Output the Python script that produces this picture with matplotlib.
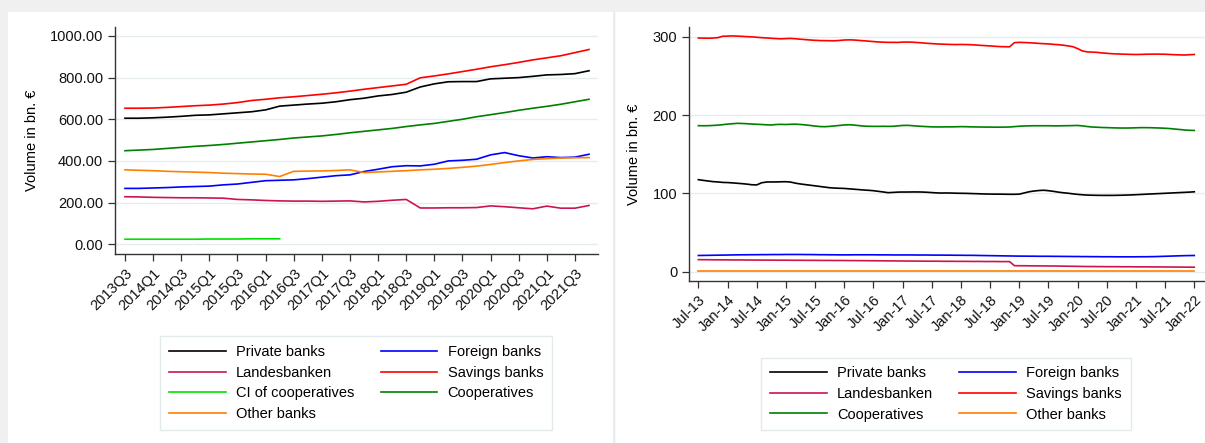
import matplotlib.pyplot as plt
from matplotlib.patches import Rectangle
from matplotlib.lines import Line2D

plt.rcParams['font.family'] = ['Liberation Sans', 'DejaVu Sans']

# left chart: quarterly, 2013Q3 .. 2021Q4
quarters = ['2013Q3', '2013Q4', '2014Q1', '2014Q2', '2014Q3', '2014Q4', '2015Q1', '2015Q2',
            '2015Q3', '2015Q4', '2016Q1', '2016Q2', '2016Q3', '2016Q4', '2017Q1', '2017Q2',
            '2017Q3', '2017Q4', '2018Q1', '2018Q2', '2018Q3', '2018Q4', '2019Q1', '2019Q2',
            '2019Q3', '2019Q4', '2020Q1', '2020Q2', '2020Q3', '2020Q4', '2021Q1', '2021Q2',
            '2021Q3', '2021Q4']
q_private = [605, 605, 607, 610, 614, 619, 621, 626, 631, 636, 645, 663, 668, 673, 677, 684, 694,
             701, 712, 719, 730, 755, 770, 780, 781, 781, 794, 797, 800, 806, 813, 815, 819, 833]
q_foreign = [268, 268, 270, 272, 275, 277, 279, 285, 289, 297, 305, 307, 309, 315, 322, 329, 333,
             349, 360, 372, 377, 376, 384, 400, 403, 408, 429, 440, 425, 414, 420, 416, 418, 432]
q_landes = [228, 227, 225, 224, 223, 223, 222, 221, 215, 213, 210, 208, 207, 207, 206, 207, 208,
            203, 206, 211, 215, 174, 174, 175, 175, 176, 184, 180, 175, 170, 183, 173, 173, 186]
q_savings = [653, 653, 654, 657, 661, 665, 668, 673, 680, 690, 696, 703, 708, 714, 720, 727, 735,
             744, 752, 760, 768, 799, 808, 818, 829, 840, 852, 862, 873, 885, 895, 905, 920, 935]
q_ci_coop = [24, 24, 24, 24, 24, 24, 25, 25, 25, 26, 26, 26]
q_coops = [449, 452, 455, 460, 465, 470, 474, 479, 485, 491, 497, 503, 510, 515, 520, 527, 535,
           542, 549, 556, 565, 573, 580, 590, 600, 612, 622, 632, 643, 653, 662, 672, 684, 696]
q_other = [357, 355, 353, 350, 348, 346, 344, 341, 339, 337, 336, 325, 350, 351, 352, 354, 357,
           344, 347, 350, 353, 357, 360, 364, 369, 375, 383, 392, 400, 407, 411, 414, 415, 416]

# right chart: monthly, Jul-13 .. Jan-22
month_labels = ['Jul-13', 'Jan-14', 'Jul-14', 'Jan-15', 'Jul-15', 'Jan-16', 'Jul-16', 'Jan-17',
                'Jul-17', 'Jan-18', 'Jul-18', 'Jan-19', 'Jul-19', 'Jan-20', 'Jul-20', 'Jan-21',
                'Jul-21', 'Jan-22']
m_private = [117.5, 116.6, 115.8, 115.0, 114.6, 114.0,
             113.8, 113.4, 112.9, 112.4, 111.8, 111.0,
             110.8, 113.5, 114.5, 114.6, 114.6, 114.8,
             114.9, 114.4, 113.0, 112.0, 111.2, 110.4,
             109.6, 108.8, 108.0, 107.2, 106.8, 106.5,
             106.3, 105.8, 105.3, 104.8, 104.3, 103.9,
             103.4, 102.6, 101.8, 100.9, 101.2, 101.6,
             101.7, 101.7, 101.8, 101.8, 101.7, 101.4,
             101.0, 100.6, 100.4, 100.5, 100.4, 100.2,
             100.1, 100.0, 99.8, 99.6, 99.4, 99.2,
             99.1, 99.0, 99.0, 98.9, 98.8, 98.8,
             99.0, 100.5, 102.0, 103.0, 103.6, 104.0,
             103.4, 102.6, 101.6, 100.8, 100.2, 99.4,
             98.7, 98.2, 97.8, 97.6, 97.5, 97.4,
             97.4, 97.4, 97.5, 97.6, 97.8, 98.0,
             98.3, 98.6, 98.9, 99.2, 99.5, 99.8,
             100.1, 100.4, 100.7, 101.0, 101.3, 101.6,
             102.0]
m_foreign = [20.6, 20.7, 20.8, 20.9, 21.0, 21.1,
             21.2, 21.3, 21.4, 21.5, 21.5, 21.6,
             21.6, 21.7, 21.7, 21.8, 21.8, 21.8,
             21.9, 21.9, 21.9, 21.9, 21.8, 21.8,
             21.7, 21.6, 21.6, 21.5, 21.5, 21.4,
             21.4, 21.4, 21.5, 21.5, 21.5, 21.5,
             21.5, 21.4, 21.4, 21.4, 21.3, 21.3,
             21.3, 21.3, 21.3, 21.2, 21.2, 21.2,
             21.1, 21.1, 21.1, 21.0, 21.0, 20.9,
             20.9, 20.8, 20.8, 20.7, 20.6, 20.5,
             20.4, 20.3, 20.2, 20.1, 20.0, 19.9,
             19.8, 19.8, 19.7, 19.7, 19.6, 19.6,
             19.6, 19.5, 19.5, 19.4, 19.4, 19.3,
             19.3, 19.2, 19.2, 19.1, 19.1, 19.0,
             19.0, 19.0, 18.9, 18.9, 18.9, 18.9,
             18.9, 19.0, 19.0, 19.1, 19.2, 19.4,
             19.6, 19.8, 20.0, 20.2, 20.4, 20.5,
             20.6]
m_landes = [15.3, 15.2, 15.2, 15.1, 15.1, 15.0,
            15.0, 14.9, 14.9, 14.9, 14.8, 14.8,
            14.8, 14.7, 14.7, 14.7, 14.6, 14.6,
            14.6, 14.5, 14.5, 14.5, 14.4, 14.4,
            14.4, 14.3, 14.3, 14.3, 14.2, 14.2,
            14.2, 14.1, 14.1, 14.0, 14.0, 13.9,
            13.9, 13.8, 13.8, 13.7, 13.7, 13.6,
            13.6, 13.5, 13.5, 13.4, 13.4, 13.3,
            13.3, 13.3, 13.2, 13.2, 13.2, 13.1,
            13.1, 13.1, 13.0, 13.0, 13.0, 12.9,
            12.9, 12.9, 12.8, 12.8, 12.8, 7.6,
            7.5, 7.5, 7.4, 7.4, 7.3, 7.3,
            7.2, 7.2, 7.1, 7.0, 6.9, 6.8,
            6.7, 6.6, 6.5, 6.5, 6.4, 6.4,
            6.3, 6.3, 6.3, 6.2, 6.2, 6.2,
            6.1, 6.1, 6.1, 6.0, 6.0, 6.0,
            5.9, 5.9, 5.8, 5.8, 5.7, 5.7,
            5.6]
m_savings = [298.5, 298.4, 298.3, 298.5, 299.0, 300.8,
             301.0, 301.2, 301.0, 300.7, 300.3, 300.0,
             299.5, 299.0, 298.6, 298.2, 297.8, 297.5,
             297.8, 298.0, 297.6, 297.0, 296.5, 296.0,
             295.6, 295.3, 295.2, 295.1, 295.0, 295.4,
             296.0, 296.2, 296.0, 295.5, 295.0, 294.5,
             294.0, 293.5, 293.2, 293.0, 293.0, 292.9,
             293.3, 293.4, 293.2, 292.8, 292.3, 291.8,
             291.4, 291.0, 290.7, 290.5, 290.3, 290.2,
             290.3, 290.2, 290.0, 289.6, 289.2, 288.8,
             288.4, 288.0, 287.6, 287.4, 287.3, 292.6,
             293.0, 292.8, 292.5, 292.1, 291.7, 291.3,
             291.0, 290.5, 290.0, 289.4, 288.5, 287.5,
             285.0, 282.0, 280.8, 280.5, 280.2, 279.5,
             279.0, 278.5, 278.2, 278.0, 277.8, 277.6,
             277.5, 277.6, 277.8, 277.9, 278.0, 277.9,
             277.8, 277.5, 277.2, 277.0, 276.8, 277.2,
             277.5]
m_coops = [186.5, 186.4, 186.5, 186.8, 187.2, 187.8,
           188.5, 189.0, 189.5, 189.3, 189.0, 188.6,
           188.3, 188.0, 187.6, 187.4, 188.0, 188.2,
           188.0, 188.3, 188.4, 188.0, 187.5, 186.8,
           186.0, 185.4, 185.2, 185.6, 186.2, 186.8,
           187.4, 187.7, 187.3, 186.6, 186.0, 185.7,
           185.6, 185.6, 185.7, 185.6, 185.7, 186.2,
           186.8, 186.9, 186.5, 186.0, 185.6, 185.3,
           185.0, 184.9, 184.9, 185.0, 185.0, 185.1,
           185.3, 185.2, 185.0, 184.9, 184.8, 184.7,
           184.7, 184.6, 184.6, 184.7, 184.8, 185.3,
           185.8, 186.1, 186.3, 186.4, 186.4, 186.4,
           186.4, 186.3, 186.3, 186.4, 186.5, 186.6,
           186.8, 186.2, 185.4, 184.8, 184.5, 184.2,
           184.0, 183.8, 183.6, 183.5, 183.5, 183.6,
           183.8, 184.0, 184.0, 183.9, 183.7, 183.5,
           183.2, 182.8, 182.2, 181.6, 181.0, 180.6,
           180.4]
m_other = [0.5, 0.5, 0.5, 0.5, 0.5, 0.5,
           0.5, 0.5, 0.5, 0.5, 0.5, 0.5,
           0.5, 0.5, 0.5, 0.5, 0.5, 0.5,
           0.5, 0.5, 0.5, 0.5, 0.5, 0.5,
           0.5, 0.5, 0.5, 0.5, 0.5, 0.5,
           0.5, 0.5, 0.5, 0.5, 0.5, 0.5,
           0.5, 0.5, 0.5, 0.5, 0.5, 0.5,
           0.5, 0.5, 0.5, 0.5, 0.5, 0.5,
           0.5, 0.5, 0.5, 0.5, 0.5, 0.5,
           0.5, 0.5, 0.5, 0.5, 0.5, 0.5,
           0.5, 0.5, 0.5, 0.5, 0.5, 0.5,
           0.5, 0.5, 0.5, 0.5, 0.5, 0.5,
           0.5, 0.5, 0.5, 0.5, 0.5, 0.5,
           0.5, 0.5, 0.5, 0.5, 0.5, 0.5,
           0.5, 0.5, 0.5, 0.5, 0.5, 0.5,
           0.5, 0.5, 0.5, 0.5, 0.5, 0.5,
           0.5, 0.5, 0.5, 0.5, 0.5, 0.5,
           0.5]

colors = {'Private banks': '#000000', 'Foreign banks': '#0000ff', 'Landesbanken': '#cc1450',
          'Savings banks': '#ff0000', 'CI of cooperatives': '#00e000', 'Cooperatives': '#008000',
          'Other banks': '#ff8000'}
grid_c = '#e6edf0'
spine_c = '#333333'

fig = plt.figure(figsize=(12.05, 4.43), dpi=100, facecolor='#f0f0f0')
# white panels behind the axes
fig.patches.append(Rectangle((8 / 1205, 0), 605 / 1205, 431 / 443, transform=fig.transFigure,
                             facecolor='white', edgecolor='none', zorder=-5))
fig.patches.append(Rectangle((614 / 1205, 0), 591 / 1205, 431 / 443, transform=fig.transFigure,
                             facecolor='white', edgecolor='none', zorder=-5))
fig.add_artist(Line2D([613.5 / 1205, 613.5 / 1205], [0, 431 / 443], color='#e4eaec', lw=1,
                      zorder=-4))


def style_axes(ax):
    for s in ['top', 'right']:
        ax.spines[s].set_visible(False)
    for s in ['left', 'bottom']:
        ax.spines[s].set_color(spine_c)
        ax.spines[s].set_linewidth(1.0)
    ax.tick_params(direction='out', length=5, width=0.9, color=spine_c, labelsize=10.5,
                   labelcolor='#111111')
    ax.yaxis.grid(True, color=grid_c, linewidth=1.0)
    ax.set_axisbelow(True)
    ax.patch.set_alpha(0)


# ---- left chart
ax1 = fig.add_axes([115 / 1205, 1 - 254 / 443, 483 / 1205, 227 / 443])
style_axes(ax1)
qx = list(range(len(quarters)))
left_series = [('Private banks', q_private), ('Foreign banks', q_foreign),
               ('Landesbanken', q_landes), ('Savings banks', q_savings),
               ('CI of cooperatives', q_ci_coop), ('Cooperatives', q_coops),
               ('Other banks', q_other)]
for name, vals in left_series:
    ax1.plot(qx[:len(vals)], vals, color=colors[name], lw=1.2)
ax1.set_xlim(-0.71, 33.64)
ax1.set_ylim(-47, 1043)
ax1.set_yticks([0, 200, 400, 600, 800, 1000])
ax1.set_yticklabels(['%.2f' % v for v in [0, 200, 400, 600, 800, 1000]])
ax1.set_xticks(qx[::2])
ax1.set_xticklabels(quarters[::2], rotation=45, ha='right', rotation_mode='anchor')
ax1.set_ylabel('Volume in bn. €', fontsize=10.5, labelpad=8)

# ---- right chart
ax2 = fig.add_axes([689 / 1205, 1 - 281 / 443, 516 / 1205, 254.3 / 443])
style_axes(ax2)
mx = list(range(len(m_private)))
right_series = [('Private banks', m_private), ('Foreign banks', m_foreign),
                ('Landesbanken', m_landes), ('Savings banks', m_savings),
                ('Cooperatives', m_coops), ('Other banks', m_other)]
for name, vals in right_series:
    ax2.plot(mx, vals, color=colors[name], lw=1.2)
ax2.set_xlim(-1.93, 104.2)
ax2.set_ylim(-12, 313)
ax2.set_yticks([0, 100, 200, 300])
ax2.set_xticks(mx[::6])
ax2.set_xticklabels(month_labels, rotation=45, ha='right', rotation_mode='anchor')
ax2.set_ylabel('Volume in bn. €', fontsize=10.5, labelpad=8)


def add_legend(names, center):
    # row-wise order like the original: fill first column, then second
    order = names[0::2] + names[1::2]
    handles = [Line2D([], [], color=colors[n], lw=1.2) for n in order]
    fig.legend(handles, order, loc='center', bbox_to_anchor=center, ncol=2, fontsize=10.5,
               frameon=True, fancybox=False, edgecolor='#dde5e8', handlelength=3.9,
               columnspacing=1.8, handletextpad=0.7, labelspacing=0.45, borderpad=0.6)


add_legend([n for n, _ in left_series], (356 / 1205, 1 - 383 / 443))
add_legend([n for n, _ in right_series], (946 / 1205, 1 - 394 / 443))

fig.savefig('out.png', dpi=100, facecolor=fig.get_facecolor())
